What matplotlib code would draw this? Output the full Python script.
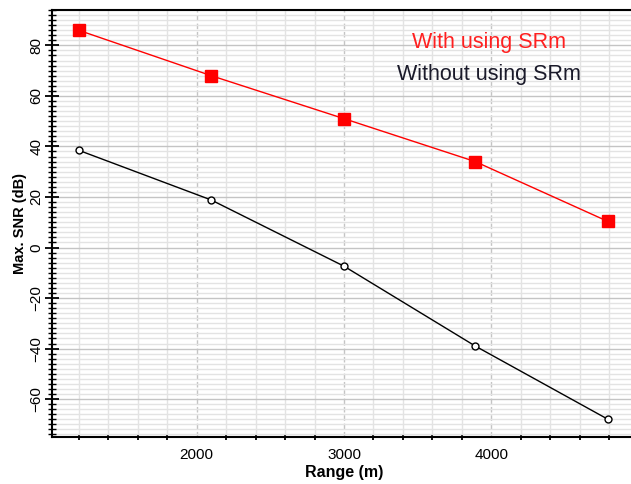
import numpy as np
import matplotlib.pyplot as plt
from matplotlib.ticker import MultipleLocator

plt.rcParams['font.family'] = ['Liberation Sans', 'DejaVu Sans']

# range in metres and max SNR in dB
rng = [1200, 2100, 3000, 3890, 4790]
snr_with = [86, 68, 51, 34, 10.3]
snr_without = [38.5, 18.8, -7.4, -39, -68]

fig = plt.figure(figsize=(6.31, 4.84), dpi=100)
ax = fig.add_axes([52 / 631, 47 / 484, 584 / 631, 427 / 484])

ax.set_xlim(1020, 4980)
ax.set_ylim(-75, 94)

ax.xaxis.set_major_locator(MultipleLocator(1000))
ax.xaxis.set_minor_locator(MultipleLocator(200))
ax.yaxis.set_major_locator(MultipleLocator(20))
ax.yaxis.set_minor_locator(MultipleLocator(2))

ax.grid(which='minor', color='#e3e3e3', lw=1.0)
ax.grid(which='major', axis='y', color='#c4c4c4', lw=1.0)
ax.grid(which='major', axis='x', color='#c4c4c4', lw=1.0, ls=(0, (4, 2)))
ax.set_axisbelow(True)

ax.plot(rng, snr_with, color='red', lw=1.0, marker='s', ms=9,
        mfc='red', mec='red', zorder=3)
ax.plot(rng, snr_without, color='black', lw=1.0, marker='o', ms=5,
        mfc='white', mec='black', mew=1.0, zorder=3)

ax.text(0.748, 0.925, 'With using SRm', transform=ax.transAxes, color='#ff2020',
        fontsize=15.5, ha='center', va='center')
ax.text(0.748, 0.85, 'Without using SRm', transform=ax.transAxes, color='#1a1a2a',
        fontsize=15.5, ha='center', va='center')

for side in ['top', 'bottom']:
    ax.spines[side].set_linestyle((0, (1, 1)))
    ax.spines[side].set_linewidth(1.5)
ax.spines['right'].set_visible(False)
ax.spines['left'].set_linewidth(1.5)

ax.tick_params(axis='y', which='major', direction='inout', length=10, width=1.3,
               labelsize=11, pad=1)
ax.tick_params(axis='y', which='minor', direction='inout', length=6, width=1.0)
ax.tick_params(axis='x', which='major', direction='inout', length=0, labelsize=11, pad=8)
ax.tick_params(axis='x', which='minor', direction='inout', length=4, width=1.3)
for lbl in ax.get_yticklabels():
    lbl.set_rotation(90)
    lbl.set_va('center')

ax.set_xlabel('Range (m)', fontsize=11.5, fontweight='bold', labelpad=2)
ax.set_ylabel('Max. SNR (dB)', fontsize=10.5, fontweight='bold', labelpad=2)

fig.savefig('out.png', dpi=100)
